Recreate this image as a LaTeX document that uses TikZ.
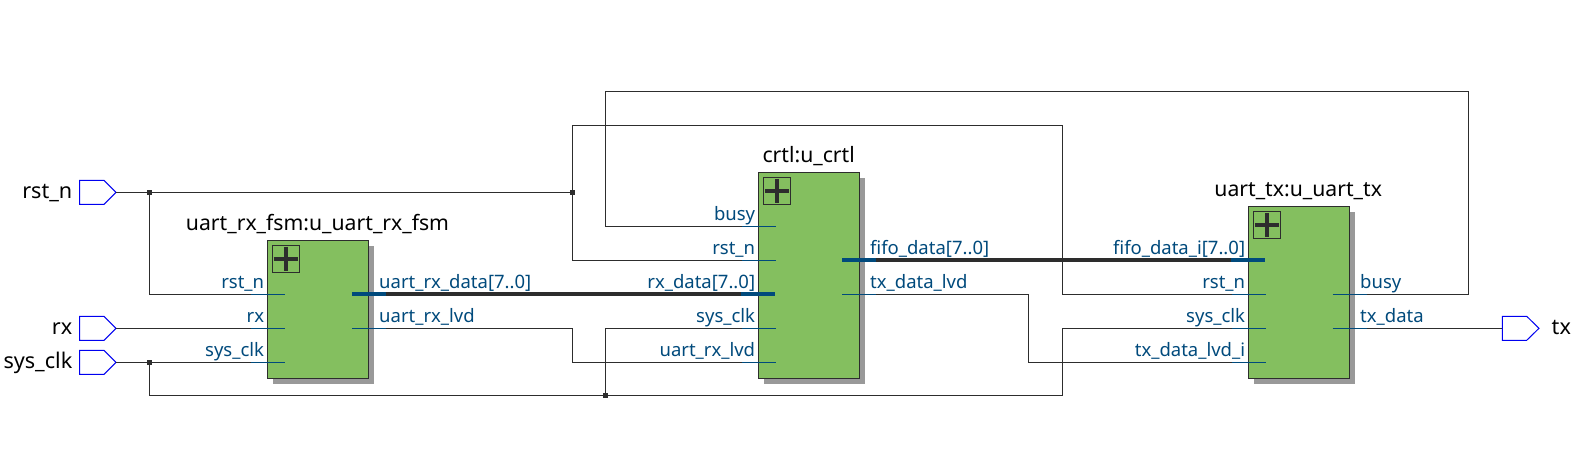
\documentclass[tikz,border=0pt]{standalone}
\usepackage{fontspec}
\setmainfont{Noto Sans}
\definecolor{wirec}{HTML}{2D2D2D}
\definecolor{pinc}{HTML}{004A7C}
\definecolor{portc}{HTML}{0000F0}
\definecolor{blockc}{HTML}{84BF5F}
\definecolor{shadowc}{HTML}{999999}
\definecolor{labc}{HTML}{004A7C}
\tikzset{
  wire/.style={draw=wirec,line width=1pt},
  bus/.style={draw=wirec,line width=4pt},
  pinwire/.style={draw=pinc,line width=1pt},
  pinbus/.style={draw=pinc,line width=4pt},
  blockbox/.style={draw=wirec,fill=blockc,line width=1pt},
  shadowbox/.style={fill=shadowc,draw=none},
  plusbox/.style={draw=wirec,line width=1pt},
  plusbar/.style={draw=wirec,line width=4.5pt},
  junction/.style={fill=wirec,draw=none,minimum size=5.5pt,inner sep=0pt,outer sep=0pt,rectangle},
  portshape/.style={draw=portc,fill=white,line width=1pt,line join=miter},
  plab/.style={text=labc,font=\fontsize{18.5}{20}\selectfont,inner sep=0pt},
  plabl/.style={plab,anchor=base east},
  plabr/.style={plab,anchor=base west},
  title/.style={text=black,font=\fontsize{21.2}{24}\selectfont,inner sep=0pt,anchor=base},
  plabp/.style={text=black,font=\fontsize{21.6}{24}\selectfont,inner sep=0pt},
}
% \blk{name}{x1}{y1}{x2}{y2}{title}{title x}
\newcommand{\blk}[7]{%
  \fill[shadowbox] (#2+5.5,#3+5.5) rectangle (#4+5.5,#5+5.5);
  \node[blockbox,anchor=north west,minimum width=#4-#2,minimum height=#5-#3,inner sep=0pt,outer sep=0pt] (#1) at (#2,#3) {};
  \draw[plusbox] (#2+5,#3+5) rectangle (#2+32.5,#3+32.5);
  \draw[plusbar] (#2+6.5,#3+18.75) -- (#2+31,#3+18.75);
  \draw[plusbar] (#2+18.75,#3+6.5) -- (#2+18.75,#3+31);
  \node[title] (#1t) at (#7,#3-9.5) {#6};
}
\newcommand{\portglyph}[3]{% name, x, y
  \draw[portshape] (#2,#3-12) -- (#2+24.5,#3-12) -- (#2+36.5,#3) -- (#2+24.5,#3+12) -- (#2,#3+12) -- cycle;
  \coordinate (#1) at (#2+36.5,#3);
}
\begin{document}
\begin{tikzpicture}[x=1pt,y=-1pt]
\useasboundingbox (0,0) rectangle (1572,452);
\fill[white] (0,0) rectangle (1572,452);

% pin coordinates
\coordinate (a1) at (285,294.3);
\coordinate (a2) at (285,328.3);
\coordinate (a3) at (285,362.3);
\coordinate (ao1) at (352,294);
\coordinate (ao2) at (352,328.3);
\coordinate (b1) at (776,226.3);
\coordinate (b2) at (776,260.3);
\coordinate (b3) at (775,294);
\coordinate (b4) at (776,328.3);
\coordinate (b5) at (776,362.3);
\coordinate (bo1) at (842,260);
\coordinate (bo2) at (842,294.3);
\coordinate (c1) at (1265,260);
\coordinate (c2) at (1266,294.3);
\coordinate (c3) at (1266,328.3);
\coordinate (c4) at (1266,362.3);
\coordinate (co1) at (1332.6,294.3);
\coordinate (co2) at (1332.6,328.3);

% ports
\portglyph{prst}{79.5}{192.3}
\portglyph{prx}{79.5}{328.3}
\portglyph{pclk}{79.5}{362.3}
\draw[portshape] (1502.3,316.3) -- (1526.7,316.3) -- (1539,328.3) -- (1526.7,340.3) -- (1502.3,340.3) -- cycle;
\coordinate (ptx) at (1502.3,328.3);

% junctions
\coordinate (j1) at (149.3,192.3);
\coordinate (j2) at (572.3,192.3);
\coordinate (j3) at (149.3,362.3);
\coordinate (j4) at (605.3,395.3);

% wires
\draw[wire] (prst) -- (j2);
\draw[wire] (j1) |- (a1);
\draw[wire] (prx) -- (a2);
\draw[wire] (pclk) -- (a3);
\draw[wire] (j3) |- (j4);
\draw[wire] (j4) -- (1062.3,395.3) |- (c3);
\draw[wire] (j4) |- (b4);
\draw[wire] (j2) |- (b2);
\draw[wire] (j2) -- (572.3,125.3) -- (1062.3,125.3) |- (c2);
\draw[wire] (co1) -- (1468.7,294.3) -- (1468.7,91.3) -- (605.3,91.3) |- (b1);
\draw[wire] (ao2) -- (572.3,328.3) |- (b5);
\draw[wire] (bo2) -- (1028.3,294.3) |- (c4);
\draw[wire] (co2) -- (ptx);
\draw[bus] (ao1) -- (b3);
\draw[bus] (bo1) -- (c1);

% blocks
\blk{ua}{267.3}{240.3}{368.7}{378.3}{uart\_rx\_fsm:u\_uart\_rx\_fsm}{317.5}
\blk{ub}{758.3}{172.3}{859.3}{378.3}{crtl:u\_crtl}{808.7}
\blk{uc}{1248.3}{206.3}{1349.3}{378.3}{uart\_tx:u\_uart\_tx}{1298.2}

% pin stubs
\draw[pinwire] (251,294.3) -- (a1);
\draw[pinwire] (251,328.3) -- (a2);
\draw[pinwire] (251,362.3) -- (a3);
\draw[pinbus] (ao1) -- (386,294);
\draw[pinwire] (ao2) -- (386,328.3);
\draw[pinwire] (742,226.3) -- (b1);
\draw[pinwire] (742,260.3) -- (b2);
\draw[pinbus] (741,294) -- (b3);
\draw[pinwire] (742,328.3) -- (b4);
\draw[pinwire] (742,362.3) -- (b5);
\draw[pinbus] (bo1) -- (876,260);
\draw[pinwire] (bo2) -- (876,294.3);
\draw[pinbus] (1231,260) -- (c1);
\draw[pinwire] (1232,294.3) -- (c2);
\draw[pinwire] (1232,328.3) -- (c3);
\draw[pinwire] (1232,362.3) -- (c4);
\draw[pinwire] (co1) -- (1366.6,294.3);
\draw[pinwire] (co2) -- (1366.6,328.3);

% junction dots
\node[junction] (jd1) at (j1) {};
\node[junction] (jd2) at (j2) {};
\node[junction] (jd3) at (j3) {};
\node[junction] (jd4) at (j4) {};

% pin labels
\node[plabl] (l1) at (264.3,288.3) {rst\_n};
\node[plabl] (l2) at (264.3,322.3) {rx};
\node[plabl] (l3) at (264.3,356.3) {sys\_clk};
\node[plabr] (l4) at (379,288.3) {uart\_rx\_data[7..0]};
\node[plabr] (l5) at (379,322.3) {uart\_rx\_lvd};
\node[plabl] (l6) at (755.3,220.3) {busy};
\node[plabl] (l7) at (755.3,254.3) {rst\_n};
\node[plabl] (l8) at (755.3,288.3) {rx\_data[7..0]};
\node[plabl] (l9) at (755.3,322.3) {sys\_clk};
\node[plabl] (l10) at (755.3,356.3) {uart\_rx\_lvd};
\node[plabr] (l11) at (870,254.3) {fifo\_data[7..0]};
\node[plabr] (l12) at (870,288.3) {tx\_data\_lvd};
\node[plabl] (l13) at (1245.3,254.3) {fifo\_data\_i[7..0]};
\node[plabl] (l14) at (1245.3,288.3) {rst\_n};
\node[plabl] (l15) at (1245.3,322.3) {sys\_clk};
\node[plabl] (l16) at (1245.3,356.3) {tx\_data\_lvd\_i};
\node[plabr] (l17) at (1360,288.3) {busy};
\node[plabr] (l18) at (1360,322.3) {tx\_data};

% port labels
\node[plabp,anchor=base east] (n1) at (72.5,198.3) {rst\_n};
\node[plabp,anchor=base east] (n2) at (72.5,334.3) {rx};
\node[plabp,anchor=base east] (n3) at (72.5,368.3) {sys\_clk};
\node[plabp,anchor=base west] (n4) at (1551.5,334.3) {tx};
\end{tikzpicture}
\end{document}
